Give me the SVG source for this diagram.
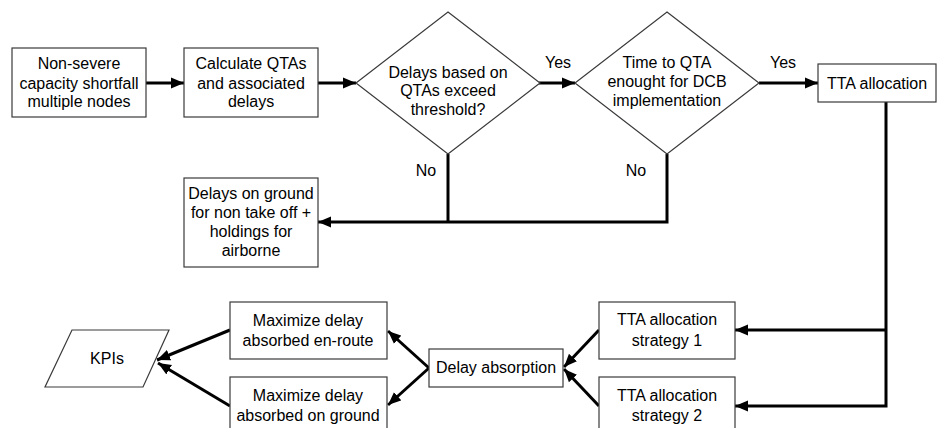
<svg xmlns="http://www.w3.org/2000/svg" width="941" height="428" viewBox="0 0 941 428">
  <style>
    .box { fill: #ffffff; stroke: #3a3a3a; stroke-width: 1.2; }
    .lbl { font-family: "Liberation Sans", Arial, sans-serif; font-size: 16px; fill: #000000; text-anchor: middle; }
    .edge { fill: none; stroke: #000000; stroke-width: 3; stroke-linejoin: miter; }
  </style>
  <defs>
    <marker id="arrow" markerUnits="userSpaceOnUse" markerWidth="14" markerHeight="12" refX="13" refY="6" orient="auto">
      <path d="M0,0.5 L13,6 L0,11.5 z" fill="#000000"/>
    </marker>
  </defs>

  <rect width="941" height="428" fill="#ffffff"/>

  <!-- connectors -->
  <g id="connectors">
    <line class="edge" x1="146" y1="83" x2="184" y2="83" marker-end="url(#arrow)"/>
    <line class="edge" x1="318" y1="83" x2="356" y2="83" marker-end="url(#arrow)"/>
    <line class="edge" x1="539" y1="83" x2="575" y2="83" marker-end="url(#arrow)"/>
    <line class="edge" x1="759" y1="83" x2="818" y2="83" marker-end="url(#arrow)"/>
    <!-- "No" branches merge into one line to the left box -->
    <polyline class="edge" points="448,154 448,222"/>
    <polyline class="edge" points="667,154 667,222 318,222" marker-end="url(#arrow)"/>
    <!-- TTA allocation down to strategies -->
    <polyline class="edge" points="886,102 886,406 735,406" marker-end="url(#arrow)"/>
    <line class="edge" x1="886" y1="330" x2="735" y2="330" marker-end="url(#arrow)"/>
    <!-- strategies into delay absorption -->
    <line class="edge" x1="599" y1="330" x2="564" y2="367" marker-end="url(#arrow)"/>
    <line class="edge" x1="599" y1="406" x2="564" y2="369" marker-end="url(#arrow)"/>
    <!-- delay absorption out to both options -->
    <line class="edge" x1="429" y1="368" x2="388" y2="331" marker-end="url(#arrow)"/>
    <line class="edge" x1="429" y1="368" x2="388" y2="405" marker-end="url(#arrow)"/>
    <!-- options into KPIs -->
    <line class="edge" x1="230" y1="330" x2="157" y2="360" marker-end="url(#arrow)"/>
    <line class="edge" x1="230" y1="406" x2="158" y2="363" marker-end="url(#arrow)"/>
  </g>

  <g id="shortfall">
    <rect class="box" x="12" y="48" width="134" height="69"/>
    <text class="lbl" x="79" y="69">Non-severe</text>
    <text class="lbl" x="79" y="89">capacity shortfall</text>
    <text class="lbl" x="79" y="107">multiple nodes</text>
  </g>

  <g id="calc-qta">
    <rect class="box" x="184" y="48" width="134" height="69"/>
    <text class="lbl" x="251" y="69">Calculate QTAs</text>
    <text class="lbl" x="251" y="89">and associated</text>
    <text class="lbl" x="251" y="107">delays</text>
  </g>

  <g id="threshold">
    <polygon class="box" points="448,12 540,83 448,154 356,83"/>
    <text class="lbl" x="448" y="78">Delays based on</text>
    <text class="lbl" x="448" y="96">QTAs exceed</text>
    <text class="lbl" x="448" y="115">threshold?</text>
  </g>

  <g id="time-check">
    <polygon class="box" points="667,12 759,83 667,154 575,83"/>
    <text class="lbl" x="667" y="68">Time to QTA</text>
    <text class="lbl" x="667" y="87">enought for DCB</text>
    <text class="lbl" x="667" y="106">implementation</text>
  </g>

  <g id="tta-allocation">
    <rect class="box" x="818" y="64" width="118" height="38"/>
    <text class="lbl" x="877" y="89">TTA allocation</text>
  </g>

  <g id="ground-delays">
    <rect class="box" x="184" y="178" width="134" height="89"/>
    <text class="lbl" x="251" y="199">Delays on ground</text>
    <text class="lbl" x="251" y="218">for non take off +</text>
    <text class="lbl" x="251" y="237">holdings for</text>
    <text class="lbl" x="251" y="256">airborne</text>
  </g>

  <g id="edge-labels">
    <text class="lbl" x="558" y="68">Yes</text>
    <text class="lbl" x="783" y="68">Yes</text>
    <text class="lbl" x="426" y="176">No</text>
    <text class="lbl" x="636" y="176">No</text>
  </g>

  <g id="strategy-1">
    <rect class="box" x="599" y="302" width="136" height="57"/>
    <text class="lbl" x="667" y="325">TTA allocation</text>
    <text class="lbl" x="667" y="346">strategy 1</text>
  </g>

  <g id="strategy-2">
    <rect class="box" x="599" y="377" width="136" height="57"/>
    <text class="lbl" x="667" y="401">TTA allocation</text>
    <text class="lbl" x="667" y="421">strategy 2</text>
  </g>

  <g id="delay-absorption">
    <rect class="box" x="429" y="349" width="134" height="38"/>
    <text class="lbl" x="496" y="373">Delay absorption</text>
  </g>

  <g id="max-enroute">
    <rect class="box" x="230" y="302" width="157" height="57"/>
    <text class="lbl" x="308" y="326">Maximize delay</text>
    <text class="lbl" x="308" y="346">absorbed en-route</text>
  </g>

  <g id="max-ground">
    <rect class="box" x="230" y="377" width="157" height="57"/>
    <text class="lbl" x="308" y="401">Maximize delay</text>
    <text class="lbl" x="308" y="421">absorbed on ground</text>
  </g>

  <g id="kpis">
    <polygon class="box" points="72,330 169,330 143,387 45,387"/>
    <text class="lbl" x="107" y="364">KPIs</text>
  </g>
</svg>
